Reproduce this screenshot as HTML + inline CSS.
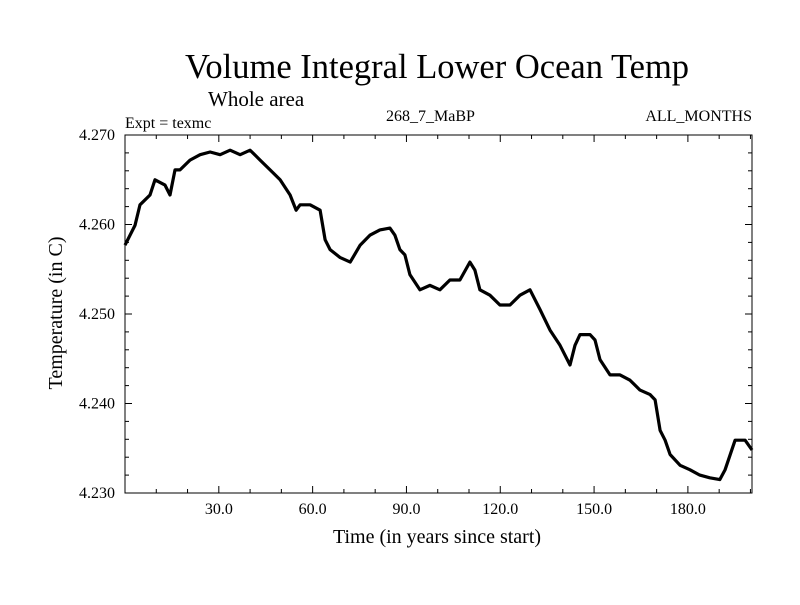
<!DOCTYPE html>
<html><head><meta charset="utf-8"><style>
body{margin:0;background:#fff}
svg text{font-family:"Liberation Serif",serif;fill:#000}
</style></head><body>
<svg id="c" width="800" height="600">
<text x="437" y="78" font-size="34.5" text-anchor="middle">Volume Integral Lower Ocean Temp</text>
<text x="208" y="106" font-size="21">Whole area</text>
<text x="125" y="128" font-size="16">Expt = texmc</text>
<text x="386" y="121" font-size="16">268_7_MaBP</text>
<text x="752" y="121" font-size="16" text-anchor="end">ALL_MONTHS</text>
<text x="437" y="543" font-size="20" text-anchor="middle">Time (in years since start)</text>
<text transform="translate(62,313) rotate(-90)" font-size="20" text-anchor="middle">Temperature (in C)</text>
<g id="ax"></g>
<path id="ln" fill="none" stroke="#000" stroke-width="3.2" stroke-linejoin="round"/>
<rect x="125" y="135" width="627" height="358" fill="none" stroke="#000" stroke-width="1"/>
</svg>
<script>
const years=[0,3.2,4.8,8,9.6,12.8,14.4,16,17.6,20.8,24,27.2,30.4,33.6,36.8,40,43.2,46.4,49.6,52.8,54.7,56,59.2,62.4,64,65.6,68.8,72,75.2,78.3,81.5,84.7,86.3,87.9,89.5,91.1,94.3,97.5,100.7,103.9,107.1,110.3,111.9,113.5,116.7,119.9,123.1,126.3,129.5,132.7,135.9,139.1,142.3,143.9,145.5,148.7,150.3,151.9,155.1,158.3,161.5,164.7,167.9,169.5,171.1,172.7,174.3,177.5,180.6,183.8,187,190.2,191.9,195.1,198.3,200.5];
const temps=[4.2577,4.2599,4.2622,4.2633,4.2650,4.2644,4.2633,4.2661,4.2661,4.2672,4.2678,4.2681,4.2678,4.2683,4.2678,4.2683,4.2672,4.2661,4.2650,4.2633,4.2616,4.2622,4.2622,4.2616,4.2583,4.2572,4.2563,4.2558,4.2577,4.2588,4.2594,4.2596,4.2588,4.2572,4.2566,4.2544,4.2527,4.2532,4.2527,4.2538,4.2538,4.2558,4.2549,4.2527,4.2521,4.2510,4.2510,4.2521,4.2527,4.2505,4.2482,4.2465,4.2443,4.2465,4.2477,4.2477,4.2471,4.2449,4.2432,4.2432,4.2426,4.2415,4.2410,4.2404,4.2370,4.2359,4.2343,4.2331,4.2326,4.2320,4.2317,4.2315,4.2326,4.2359,4.2359,4.2348];
const xTicks=[30,60,90,120,150,180];
const xTickLabels=["30.0","60.0","90.0","120.0","150.0","180.0"];
const yTicks=[4.23,4.24,4.25,4.26,4.27];
const yTickLabels=["4.230","4.240","4.250","4.260","4.270"];
const L=125,R=752,T=135,B=493,X0=0,X1=200.5,Y0=4.23,Y1=4.27;
const sx=v=>L+(v-X0)/(X1-X0)*(R-L);
const sy=v=>B-(v-Y0)/(Y1-Y0)*(B-T);
const ns="http://www.w3.org/2000/svg",ax=document.getElementById('ax');
function line(x1,y1,x2,y2,name){const l=document.createElementNS(ns,'line');
l.setAttribute('x1',x1);l.setAttribute('y1',y1);l.setAttribute('x2',x2);l.setAttribute('y2',y2);l.setAttribute('stroke','#000');


ax.appendChild(l);}
function text(x,y,s,anc,name){const t=document.createElementNS(ns,'text');t.setAttribute('x',x);t.setAttribute('y',y);t.setAttribute('font-size','16');t.setAttribute('text-anchor',anc);t.textContent=s;


ax.appendChild(t);}
for(let v=10;v<X1;v+=10){const x=sx(v),maj=v%30===0,len=maj?7:4;line(x,B,x,B-len,'x-tick');line(x,T,x,T+len,'x-tick-top');}
xTicks.forEach((v,i)=>text(sx(v),514,xTickLabels[i],'middle','x-tick-label'));
for(let k=0;k<=20;k++){const v=Y0+k*0.002,y=sy(v),maj=k%5===0,len=maj?7:4;line(L,y,L+len,y,'y-tick');line(R,y,R-len,y,'y-tick-right');}
yTicks.forEach((v,i)=>text(115,sy(v)+5,yTickLabels[i],'end','y-tick-label'));
document.getElementById('ln').setAttribute('d',years.map((y,i)=>(i?'L':'M')+sx(y).toFixed(1)+','+sy(temps[i]).toFixed(1)).join(''));
</script>
</body></html>
